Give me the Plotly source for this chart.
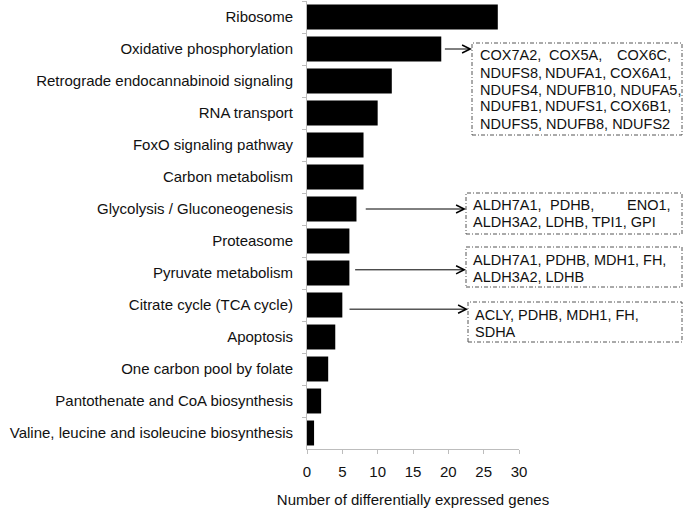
import plotly.graph_objects as go

pathways = [
    "Ribosome",
    "Oxidative phosphorylation",
    "Retrograde endocannabinoid signaling",
    "RNA transport",
    "FoxO signaling pathway",
    "Carbon metabolism",
    "Glycolysis / Gluconeogenesis",
    "Proteasome",
    "Pyruvate metabolism",
    "Citrate cycle (TCA cycle)",
    "Apoptosis",
    "One carbon pool by folate",
    "Pantothenate and CoA biosynthesis",
    "Valine, leucine and isoleucine biosynthesis",
]
gene_counts = [27, 19, 12, 10, 8, 8, 7, 6, 6, 5, 4, 3, 2, 1]
x_ticks = [0, 5, 10, 15, 20, 25, 30]

# gene lists shown in the callout boxes (one entry per printed line)
oxphos_genes = [
    "COX7A2, COX5A, COX6C,",
    "NDUFS8, NDUFA1, COX6A1,",
    "NDUFS4, NDUFB10, NDUFA5,",
    "NDUFB1, NDUFS1, COX6B1,",
    "NDUFS5, NDUFB8, NDUFS2",
]
glycolysis_genes = ["ALDH7A1, PDHB, ENO1,", "ALDH3A2, LDHB, TPI1, GPI"]
pyruvate_genes = ["ALDH7A1, PDHB, MDH1, FH,", "ALDH3A2, LDHB"]
citrate_genes = ["ACLY, PDHB, MDH1, FH,", "SDHA"]

# plot area in pixels
W, H = 685, 508
L, R, T, B = 307, 519, 1, 449
FONT = "Liberation Sans, Arial, sans-serif"


def px_x(p):
    return (p - L) / (R - L)


def px_y(p):
    return (B - p) / (B - T)


# callouts: pathway, lines, box (x0, y0, x1, y1 px), first line y,
# justified lines, arrow tail gap, arrow dy
callouts = [
    ("Oxidative phosphorylation", oxphos_genes, (472, 43, 682, 135), 55.5,
     [True, True, False, True, False], 0.3, 0.0),
    ("Glycolysis / Gluconeogenesis", glycolysis_genes, (466, 193, 682, 234), 204.5,
     [True, False], 1.1, 0.0),
    ("Pyruvate metabolism", pyruvate_genes, (466, 247, 682, 287), 259.5,
     [False, False], 0.6, -0.1),
    ("Citrate cycle (TCA cycle)", citrate_genes, (468, 302, 682, 342), 314.5,
     [False, False], 0.8, 0.13),
]
LINE_STEP = 17
BOX_FONT = dict(family=FONT, size=14.5, color="#111111")

fig = go.Figure(go.Bar(
    x=gene_counts,
    y=pathways,
    orientation="h",
    marker=dict(color="black", line=dict(width=0)),
))

shapes = []
annotations = []
xscale = (R - L) / 30.0
for name, lines, (bx0, by0, bx1, by1), ly0, justify, gap, dy in callouts:
    shapes.append(dict(
        type="rect", xref="paper", yref="paper",
        x0=px_x(bx0), x1=px_x(bx1), y0=px_y(by1), y1=px_y(by0),
        line=dict(color="#555555", width=1, dash="4px,2px,1px,2px"),
        fillcolor="rgba(0,0,0,0)",
    ))
    idx = pathways.index(name)
    val = gene_counts[idx]
    annotations.append(dict(
        xref="x", yref="y", axref="x", ayref="y",
        x=(bx0 - L) / xscale, y=idx + dy,
        ax=val + gap, ay=idx + dy,
        text="", showarrow=True, arrowhead=5, arrowsize=1.6,
        arrowwidth=1, arrowcolor="black", standoff=0, startstandoff=0,
    ))
    tl = bx0 + (6 if bx0 > 470 else 5)
    tr = bx1 - 9
    for i, line in enumerate(lines):
        yy = px_y(ly0 + i * LINE_STEP)
        words = line.split(" ")
        if justify[i]:
            n = len(words)
            for j, w in enumerate(words):
                if j == 0:
                    xx, anc = tl, "left"
                elif j == n - 1:
                    xx, anc = tr, "right"
                else:
                    xx, anc = tl + (tr - tl) * j / (n - 1), "center"
                annotations.append(dict(
                    xref="paper", yref="paper", x=px_x(xx), y=yy,
                    xanchor=anc, yanchor="middle", text=w, showarrow=False,
                    font=BOX_FONT,
                ))
        else:
            annotations.append(dict(
                xref="paper", yref="paper", x=px_x(tl), y=yy,
                xanchor="left", yanchor="middle", text=line, showarrow=False,
                font=BOX_FONT,
            ))

fig.update_layout(
    width=W, height=H,
    margin=dict(l=L, r=W - R, t=T, b=H - B, pad=0, autoexpand=False),
    plot_bgcolor="white", paper_bgcolor="white",
    bargap=0.22,
    showlegend=False,
    font=dict(family=FONT, size=15, color="#111111"),
    shapes=shapes,
    annotations=annotations,
)
fig.update_xaxes(
    range=[0, 30], tickvals=x_ticks, showgrid=False, zeroline=False,
    showline=True, linecolor="#bdbdbd", linewidth=1,
    ticks="outside", ticklen=4, tickcolor="#bdbdbd",
    ticklabelstandoff=5, automargin=False,
    tickfont=dict(size=15, color="#111111"),
    title=dict(text="Number of differentially expressed genes",
               font=dict(size=15, color="#111111"), standoff=15),
)
fig.update_yaxes(
    type="category", categoryorder="array", categoryarray=pathways,
    autorange="reversed", showgrid=False, zeroline=False,
    showline=True, linecolor="#bdbdbd", linewidth=1,
    ticks="outside", ticklen=4, tickcolor="#bdbdbd", tickson="boundaries",
    ticklabelstandoff=10, automargin=False,
    tickfont=dict(size=15, color="#111111"),
)

# drop the page's default body margin so the figure sits at the window corner
fig.write_html("out.html", config={"displayModeBar": False},
               post_script="document.body.style.margin = '0';")
